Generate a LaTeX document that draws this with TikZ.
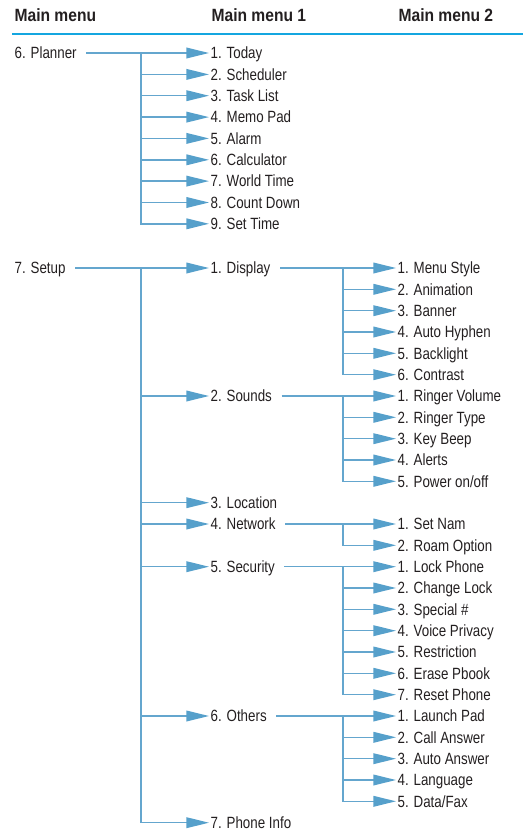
\documentclass[tikz,border=0pt]{standalone}
\usepackage{fontspec}
\usepackage{xcolor}
\usepackage{tikz}
\usetikzlibrary{arrows.meta}
\newfontfamily\itemfont{Liberation Sans}[FakeStretch=0.82]
\newfontfamily\headfont{Liberation Sans}[FakeStretch=0.88]
\definecolor{lnblue}{RGB}{100,166,206}
\definecolor{arblue}{RGB}{86,160,203}
\definecolor{rulblue}{RGB}{20,166,224}
\definecolor{txtgray}{RGB}{35,31,32}
\tikzset{
  % --- menu entries ----------------------------------------------------------
  item/.style={anchor=west,inner xsep=1pt,inner ysep=0pt,text height=8.6pt,
               text depth=0pt,text=txtgray,
               font=\itemfont\fontsize{12.2}{14}\selectfont},
  head/.style={anchor=west,inner xsep=1pt,inner ysep=0pt,text height=9.5pt,
               text depth=0pt,text=txtgray,
               font=\headfont\bfseries\fontsize{13.3}{15}\selectfont},
  % --- connectors ------------------------------------------------------------
  arr/.style={draw=lnblue,line width=1.1pt,
              -{Triangle[length=17pt,width=8pt,color=arblue]}},
  first/.style={arr,shorten <=6pt},
  rule/.style={draw=rulblue,line width=1.8pt},
}
\begin{document}
\begin{tikzpicture}[x=0.75pt,y=-0.75pt]
  \useasboundingbox (0,0) rectangle (523,832);

  \node[head] (h0) at (13,15.5)  {Main menu};
  \node[head] (h1) at (210,15.5) {Main menu 1};
  \node[head] (h2) at (397,15.5) {Main menu 2};
  \draw[rule] (12,34) -- (523,34);

  % planner
  \node[item] (plan) at (13,53) {6. Planner};
  \coordinate (jp) at (141,53);
  \node[item] (p1) at (209,53)    {1. Today};
  \node[item] (p2) at (209,74.4)  {2. Scheduler};
  \node[item] (p3) at (209,95.7)  {3. Task List};
  \node[item] (p4) at (209,117.1) {4. Memo Pad};
  \node[item] (p5) at (209,138.4) {5. Alarm};
  \node[item] (p6) at (209,159.8) {6. Calculator};
  \node[item] (p7) at (209,181.1) {7. World Time};
  \node[item] (p8) at (209,202.5) {8. Count Down};
  \node[item] (p9) at (209,223.8) {9. Set Time};
  \draw[first] (plan) -- (p1);
  \draw[arr] (jp) |- (p2);
  \draw[arr] (jp) |- (p3);
  \draw[arr] (jp) |- (p4);
  \draw[arr] (jp) |- (p5);
  \draw[arr] (jp) |- (p6);
  \draw[arr] (jp) |- (p7);
  \draw[arr] (jp) |- (p8);
  \draw[arr] (jp) |- (p9);

  % setup
  \node[item] (setup) at (13,268) {7. Setup};
  \coordinate (js) at (141,268);
  \node[item] (s1) at (209,268)   {1. Display};
  \node[item] (s2) at (209,396)   {2. Sounds};
  \node[item] (s3) at (209,502.7) {3. Location};
  \node[item] (s4) at (209,524)   {4. Network};
  \node[item] (s5) at (209,566.7) {5. Security};
  \node[item] (s6) at (209,716)   {6. Others};
  \node[item] (s7) at (209,822.7) {7. Phone Info};
  \draw[first] (setup) -- (s1);
  \draw[arr] (js) |- (s2);
  \draw[arr] (js) |- (s3);
  \draw[arr] (js) |- (s4);
  \draw[arr] (js) |- (s5);
  \draw[arr] (js) |- (s6);
  \draw[arr] (js) |- (s7);

  % display
  \coordinate (jd) at (343,268);
  \node[item] (d1) at (396,268)   {1. Menu Style};
  \node[item] (d2) at (396,289.3) {2. Animation};
  \node[item] (d3) at (396,310.7) {3. Banner};
  \node[item] (d4) at (396,332)   {4. Auto Hyphen};
  \node[item] (d5) at (396,353.3) {5. Backlight};
  \node[item] (d6) at (396,374.7) {6. Contrast};
  \draw[first] (s1) -- (d1);
  \draw[arr] (jd) |- (d2);
  \draw[arr] (jd) |- (d3);
  \draw[arr] (jd) |- (d4);
  \draw[arr] (jd) |- (d5);
  \draw[arr] (jd) |- (d6);

  % sounds
  \coordinate (jn) at (343,396);
  \node[item] (n1) at (396,396)   {1. Ringer Volume};
  \node[item] (n2) at (396,417.3) {2. Ringer Type};
  \node[item] (n3) at (396,438.7) {3. Key Beep};
  \node[item] (n4) at (396,460)   {4. Alerts};
  \node[item] (n5) at (396,481.3) {5. Power on/off};
  \draw[first] (s2) -- (n1);
  \draw[arr] (jn) |- (n2);
  \draw[arr] (jn) |- (n3);
  \draw[arr] (jn) |- (n4);
  \draw[arr] (jn) |- (n5);

  % network
  \coordinate (jw) at (343,524);
  \node[item] (w1) at (396,524)   {1. Set Nam};
  \node[item] (w2) at (396,545.3) {2. Roam Option};
  \draw[first] (s4) -- (w1);
  \draw[arr] (jw) |- (w2);

  % security
  \coordinate (jc) at (343,566.7);
  \node[item] (c1) at (396,566.7) {1. Lock Phone};
  \node[item] (c2) at (396,588)   {2. Change Lock};
  \node[item] (c3) at (396,609.3) {3. Special \#};
  \node[item] (c4) at (396,630.7) {4. Voice Privacy};
  \node[item] (c5) at (396,652)   {5. Restriction};
  \node[item] (c6) at (396,673.3) {6. Erase Pbook};
  \node[item] (c7) at (396,694.7) {7. Reset Phone};
  \draw[first] (s5) -- (c1);
  \draw[arr] (jc) |- (c2);
  \draw[arr] (jc) |- (c3);
  \draw[arr] (jc) |- (c4);
  \draw[arr] (jc) |- (c5);
  \draw[arr] (jc) |- (c6);
  \draw[arr] (jc) |- (c7);

  % others
  \coordinate (jo) at (343,716);
  \node[item] (o1) at (396,716)   {1. Launch Pad};
  \node[item] (o2) at (396,737.3) {2. Call Answer};
  \node[item] (o3) at (396,758.7) {3. Auto Answer};
  \node[item] (o4) at (396,780)   {4. Language};
  \node[item] (o5) at (396,801.3) {5. Data/Fax};
  \draw[first] (s6) -- (o1);
  \draw[arr] (jo) |- (o2);
  \draw[arr] (jo) |- (o3);
  \draw[arr] (jo) |- (o4);
  \draw[arr] (jo) |- (o5);
\end{tikzpicture}
\end{document}
